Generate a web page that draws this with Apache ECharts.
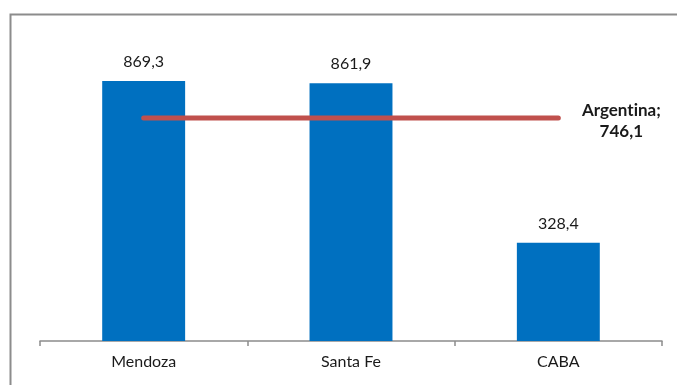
<!DOCTYPE html>
<html>
<head>
<meta charset="utf-8">
<script src="https://cdn.jsdelivr.net/npm/echarts@6/dist/echarts.min.js"></script>
<style>
  html, body { margin: 0; padding: 0; background: #fff; }
  #chart { width: 677px; height: 385px; }
</style>
</head>
<body>
<div id="chart"></div>
<script>
// Provinces compared against the national figure
const categories = ['Mendoza', 'Santa Fe', 'CABA'];
const provinceValues = [869.3, 861.9, 328.4];
const nationalName = 'Argentina';
const nationalValue = 746.1;

const fmt = v => v.toFixed(1).replace('.', ',');
// keep Lato from fusing "ti" into a ligature
const noLig = s => s.replace(/ti/g, 't\u200Ci');
const FONT = 'Lato, "Open Sans", sans-serif';

const chart = echarts.init(document.getElementById('chart'), null, { renderer: 'canvas' });

chart.setOption({
  animation: false,
  backgroundColor: '#ffffff',
  graphic: [{
    type: 'rect',
    shape: { x: 10.5, y: 14.5, width: 720, height: 420 },
    style: { fill: 'none', stroke: '#8c8c8c', lineWidth: 2 },
    silent: true
  }],
  grid: { left: 40, right: 15, top: 42, bottom: 44 },
  xAxis: {
    type: 'category',
    data: categories,
    axisLine: { lineStyle: { color: '#8c8c8c', width: 1.5 } },
    axisTick: { show: true, length: 5, lineStyle: { color: '#8c8c8c', width: 1.5 } },
    axisLabel: { color: '#1a1a1a', fontSize: 16, fontFamily: FONT, margin: 13 }
  },
  yAxis: {
    type: 'value',
    min: 0,
    max: 1000,
    show: false,
    splitLine: { show: false }
  },
  series: [
    {
      name: 'Provincias',
      type: 'bar',
      data: provinceValues,
      barWidth: '40%',
      itemStyle: { color: '#0070c0' },
      label: {
        show: true,
        position: 'top',
        distance: 11,
        color: '#1a1a1a',
        fontSize: 16,
        fontFamily: FONT,
        formatter: p => fmt(p.value)
      }
    },
    {
      name: nationalName,
      type: 'line',
      data: categories.map(() => nationalValue),
      symbol: 'none',
      lineStyle: { color: '#c0504d', width: 5, cap: 'round' },
      z: 5,
      endLabel: {
        show: true,
        distance: 25,
        color: '#1a1a1a',
        fontSize: 17,
        fontWeight: 'bold',
        fontFamily: FONT,
        align: 'center',
        lineHeight: 21,
        offset: [38, 3],
        formatter: () => noLig(nationalName) + ';\n' + fmt(nationalValue)
      }
    }
  ]
});
</script>
</body>
</html>
